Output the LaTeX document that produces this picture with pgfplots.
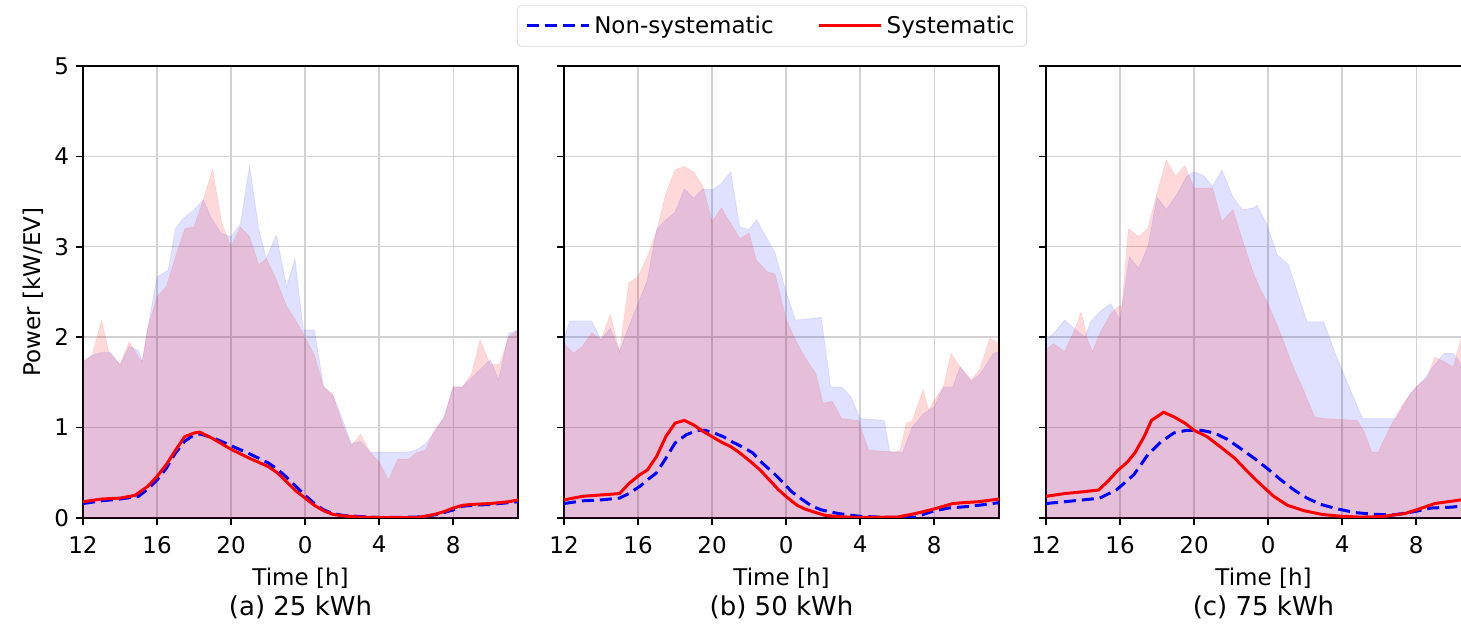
\documentclass[border=0pt]{standalone}
\usepackage{pgfplots}
\pgfplotsset{compat=1.18}
\usepackage{fontspec}
\setmainfont{DejaVu Sans}
\definecolor{gridc}{RGB}{210,210,210}
\pgfplotsset{
  myax/.style={
    scale only axis, width=217.5pt, height=226pt, anchor=south west,
    xmin=12, xmax=35.5, ymin=0, ymax=5,
    xtick={12,16,20,24,28,32}, xticklabels={12,16,20,0,4,8},
    ytick={0,1,2,3,4,5},
    grid=major, major grid style={gridc, line width=0.7pt},
    tick align=outside, major tick length=3.5pt,
    xtick pos=bottom, ytick pos=left,
    axis line style={black, line width=0.8pt},
    tick style={black, line width=0.8pt},
    ticklabel style={font=\fontsize{11.5}{13}\selectfont},
    xticklabel style={yshift=-2pt},
    /pgf/number format/assume math mode=true,
  },
  bfill/.style={fill=blue, fill opacity=0.12, draw=blue, draw opacity=0.08, forget plot},
  rfill/.style={fill=red, fill opacity=0.15, draw=red, draw opacity=0.08, forget plot},
  bline/.style={blue, line width=1.5pt, dash pattern=on 6pt off 3pt},
  rline/.style={red, line width=1.5pt},
}
\begin{document}
\begin{tikzpicture}
\useasboundingbox (0,0) rectangle (730.5pt,313pt);
% ---------------- Panel (a)
\begin{axis}[myax, name=ax1, at={(41.5pt,54pt)}, yticklabels={0,1,2,3,4,5}]
\addplot[bfill] coordinates {(12,1.72)(12.5,1.80)(13,1.83)(13.5,1.83)(14,1.69)(14.5,1.90)(15,1.85)(15.2,1.73)(15.5,2.1)(16,2.67)(16.6,2.74)(17,3.2)(17.4,3.31)(18,3.41)(18.5,3.52)(18.9,3.33)(19.45,3.15)(20,3.11)(20.5,3.25)(21,3.90)(21.5,3.19)(21.9,2.87)(22.45,3.13)(23,2.56)(23.45,2.87)(23.9,2.08)(24.5,2.08)(25,1.45)(25.5,1.36)(26,1.10)(26.5,0.82)(27,0.85)(27.5,0.73)(29.5,0.73)(30,0.75)(30.5,0.82)(31,0.95)(31.5,1.12)(32,1.45)(32.5,1.45)(33,1.55)(33.5,1.65)(34,1.75)(34.45,1.53)(35,2.04)(35.5,2.08)} \closedcycle;
\addplot[rfill] coordinates {(12,1.73)(12.5,1.8)(13,2.19)(13.4,1.83)(14,1.70)(14.5,1.95)(15,1.78)(15.2,1.73)(15.5,2.1)(16,2.45)(16.5,2.56)(17,2.89)(17.5,3.2)(18,3.22)(18.5,3.52)(19,3.86)(19.5,3.26)(20,3.0)(20.5,3.22)(21,3.11)(21.5,2.80)(21.9,2.87)(22.45,2.63)(23,2.34)(23.45,2.2)(24,2.0)(24.5,1.8)(25,1.45)(25.5,1.36)(26,1.05)(26.5,0.8)(27,0.93)(27.5,0.73)(28,0.62)(28.5,0.42)(29,0.65)(29.6,0.65)(30,0.72)(30.5,0.75)(31,0.98)(31.5,1.1)(32,1.45)(32.5,1.45)(33,1.6)(33.45,1.97)(34,1.7)(34.5,1.7)(35,2.0)(35.5,2.08)} \closedcycle;
\addplot[bline] coordinates {(12,0.16)(13,0.19)(14,0.21)(15,0.24)(15.5,0.32)(16,0.42)(16.5,0.55)(17,0.72)(17.5,0.85)(18,0.92)(18.3,0.93)(19,0.89)(20,0.80)(21,0.71)(22,0.61)(22.5,0.54)(23,0.45)(23.5,0.35)(24,0.25)(24.5,0.16)(25,0.09)(25.5,0.05)(26,0.03)(27,0.015)(28,0.005)(30,0.01)(30.5,0.02)(31,0.035)(31.5,0.06)(32,0.09)(32.5,0.13)(33,0.14)(34,0.15)(35,0.17)(35.5,0.18)};
\addplot[rline] coordinates {(12,0.18)(13,0.21)(14,0.22)(14.8,0.25)(15.5,0.35)(16,0.46)(16.5,0.59)(17,0.75)(17.5,0.90)(18,0.94)(18.3,0.95)(18.7,0.91)(19,0.88)(20,0.76)(21,0.66)(22,0.57)(22.5,0.50)(23,0.40)(23.5,0.30)(24,0.22)(24.5,0.14)(25,0.08)(25.5,0.04)(26,0.025)(27,0.01)(28,0.005)(30,0.005)(30.5,0.02)(31,0.04)(31.5,0.07)(32,0.11)(32.5,0.14)(33,0.15)(34,0.16)(35,0.18)(35.5,0.20)};
\end{axis}
% ---------------- Panel (b)
\begin{axis}[myax, name=ax2, at={(282pt,54pt)}, yticklabels={},
  legend style={at={(rel axis cs:0.478,1.0885)}, anchor=center, legend columns=2,
    draw=black!15, rounded corners=2pt, font=\fontsize{11.5}{13}\selectfont,
    inner xsep=4pt, inner ysep=3pt,
    /tikz/every even column/.append style={column sep=20pt}},
  legend image code/.code={\draw[#1] (0pt,0pt) -- (23pt,0pt); \path (0pt,0pt) -- (31pt,0pt);}]
\addplot[bfill] coordinates {(12,1.98)(12.3,2.18)(13.5,2.18)(14,1.97)(14.5,2.1)(15,1.84)(15.5,2.12)(16,2.37)(16.5,2.63)(17,3.19)(17.5,3.30)(18,3.38)(18.5,3.64)(19,3.54)(19.5,3.64)(20,3.63)(20.5,3.70)(21,3.83)(21.5,3.22)(22,3.19)(22.4,3.30)(23,3.08)(23.4,2.93)(24,2.5)(24.5,2.19)(25.1,2.2)(25.9,2.22)(26.4,1.45)(27,1.45)(27.5,1.34)(28,1.1)(29.3,1.08)(29.6,0.73)(30.3,0.73)(30.8,1.0)(31.4,1.15)(32,1.23)(32.5,1.45)(33,1.45)(33.4,1.67)(34,1.51)(34.5,1.6)(35.2,1.82)(35.5,1.84)} \closedcycle;
\addplot[rfill] coordinates {(12,1.93)(12.5,1.82)(13,1.9)(13.5,2.05)(14,1.97)(14.5,2.25)(15,1.84)(15.5,2.6)(16,2.67)(16.5,2.89)(17,3.17)(17.5,3.59)(18,3.85)(18.5,3.89)(19,3.83)(19.5,3.67)(20,3.28)(20.5,3.43)(21,3.26)(21.5,3.09)(22,3.15)(22.4,2.85)(23,2.72)(23.4,2.7)(24,2.2)(24.5,1.97)(25.1,1.75)(25.6,1.6)(26,1.27)(26.5,1.29)(27,1.10)(27.9,1.08)(28.45,0.75)(29.9,0.73)(30.15,0.75)(30.5,1.05)(30.8,1.07)(31.4,1.42)(31.7,1.2)(32,1.3)(32.5,1.45)(32.9,1.82)(33.4,1.67)(34,1.53)(34.45,1.64)(35,1.99)(35.5,1.93)} \closedcycle;
\addplot[bline] coordinates {(12,0.16)(13,0.19)(14,0.20)(15,0.22)(15.5,0.27)(16.1,0.35)(16.5,0.42)(17,0.50)(17.5,0.66)(18,0.83)(18.6,0.92)(19.2,0.97)(19.6,0.97)(20,0.95)(20.6,0.90)(21.1,0.84)(21.6,0.79)(22.2,0.72)(22.7,0.61)(23.25,0.51)(23.8,0.40)(24.3,0.29)(24.9,0.20)(25.4,0.13)(25.9,0.09)(26.8,0.05)(27.9,0.02)(29,0.01)(30,0.005)(31,0.01)(31.85,0.07)(32.75,0.11)(34,0.13)(35.5,0.17)};
\addlegendentry{Non-systematic}
\addplot[rline] coordinates {(12,0.20)(13,0.24)(15,0.27)(15.5,0.38)(16.1,0.48)(16.5,0.53)(17,0.68)(17.5,0.90)(18,1.05)(18.5,1.08)(19,1.03)(19.5,0.96)(20,0.90)(20.5,0.84)(21,0.79)(21.5,0.72)(22.1,0.62)(22.6,0.53)(23.1,0.42)(23.6,0.31)(24.1,0.22)(24.6,0.14)(25,0.10)(25.6,0.06)(26.1,0.03)(26.8,0.015)(28,0.005)(30,0.01)(31,0.05)(32,0.10)(33,0.16)(33.6,0.17)(34.4,0.18)(35.5,0.21)};
\addlegendentry{Systematic}
\end{axis}
% ---------------- Panel (c)
\begin{axis}[myax, name=ax3, at={(523pt,54pt)}, yticklabels={}]
\addplot[bfill] coordinates {(12,1.97)(12.4,2.04)(13,2.19)(13.5,2.10)(14.1,2.0)(14.4,2.17)(15,2.30)(15.5,2.37)(16,2.19)(16.5,2.89)(17,2.76)(17.5,3.0)(18,3.55)(18.5,3.41)(19.1,3.59)(19.6,3.78)(20,3.83)(20.5,3.79)(21,3.67)(21.5,3.85)(22.1,3.55)(22.6,3.41)(23.2,3.43)(23.4,3.46)(23.9,3.26)(24.5,2.91)(25.1,2.80)(26.1,2.17)(27,2.17)(27.7,1.78)(28.6,1.34)(29.1,1.10)(30.9,1.10)(31.7,1.38)(32.4,1.53)(32.9,1.67)(33.5,1.82)(34,1.82)(34.3,1.74)(34.6,1.6)(35,1.7)(35.5,1.8)} \closedcycle;
\addplot[rfill] coordinates {(12,1.86)(12.4,1.93)(13,1.84)(13.5,2.06)(13.9,2.28)(14.25,1.97)(14.5,1.84)(14.9,2.04)(15.5,2.26)(15.9,2.34)(16.1,2.34)(16.45,3.2)(17,3.11)(17.5,3.2)(18,3.6)(18.5,3.96)(19,3.78)(19.5,3.90)(20,3.65)(21,3.65)(21.5,3.28)(22.1,3.41)(22.6,3.08)(23.2,2.71)(23.6,2.52)(23.9,2.41)(24.6,2.08)(25.35,1.67)(25.9,1.42)(26.5,1.12)(27,1.10)(28.8,1.08)(29.15,0.97)(29.6,0.73)(29.95,0.73)(30.6,1.01)(31.3,1.27)(32,1.45)(32.6,1.55)(33,1.78)(33.5,1.73)(34,1.67)(34.5,2.05)(35,2.1)(35.5,2.0)} \closedcycle;
\addplot[bline] coordinates {(12,0.16)(13,0.18)(14,0.20)(14.9,0.22)(15.8,0.31)(16.75,0.48)(17.5,0.70)(18.2,0.84)(18.9,0.94)(19.6,0.97)(20.4,0.97)(21.1,0.94)(21.8,0.87)(22.5,0.77)(23.25,0.66)(24,0.54)(24.7,0.42)(25.4,0.31)(26.1,0.22)(26.85,0.15)(27.75,0.10)(28.7,0.06)(29.75,0.04)(30.8,0.035)(31.9,0.07)(32.8,0.11)(33.9,0.12)(34.4,0.13)(35.5,0.14)};
\addplot[rline] coordinates {(12,0.24)(13,0.27)(14,0.29)(14.85,0.31)(15.4,0.42)(15.9,0.53)(16.4,0.62)(16.8,0.72)(17.3,0.90)(17.7,1.08)(18.35,1.17)(18.9,1.12)(19.5,1.05)(20,0.97)(20.7,0.90)(21.4,0.79)(22.2,0.66)(22.9,0.51)(23.6,0.37)(24.3,0.24)(25.05,0.14)(25.95,0.08)(26.9,0.04)(27.9,0.02)(29,0.01)(30.1,0.015)(31.4,0.05)(32.3,0.11)(33,0.16)(33.7,0.18)(34.4,0.20)(35.5,0.21)};
\end{axis}
% labels
\node[font=\fontsize{11.5}{13}\selectfont, rotate=90] at (16.5pt,167pt) {Power [kW/EV]};
\foreach \a/\t in {ax1/(a) 25 kWh, ax2/(b) 50 kWh, ax3/(c) 75 kWh}{
  \node[font=\fontsize{11.5}{13}\selectfont] at ([yshift=-30pt]\a.south) {Time [h]};
  \node[font=\fontsize{13}{15}\selectfont] at ([yshift=-44.5pt]\a.south) {\t};
}
\end{tikzpicture}
\end{document}
